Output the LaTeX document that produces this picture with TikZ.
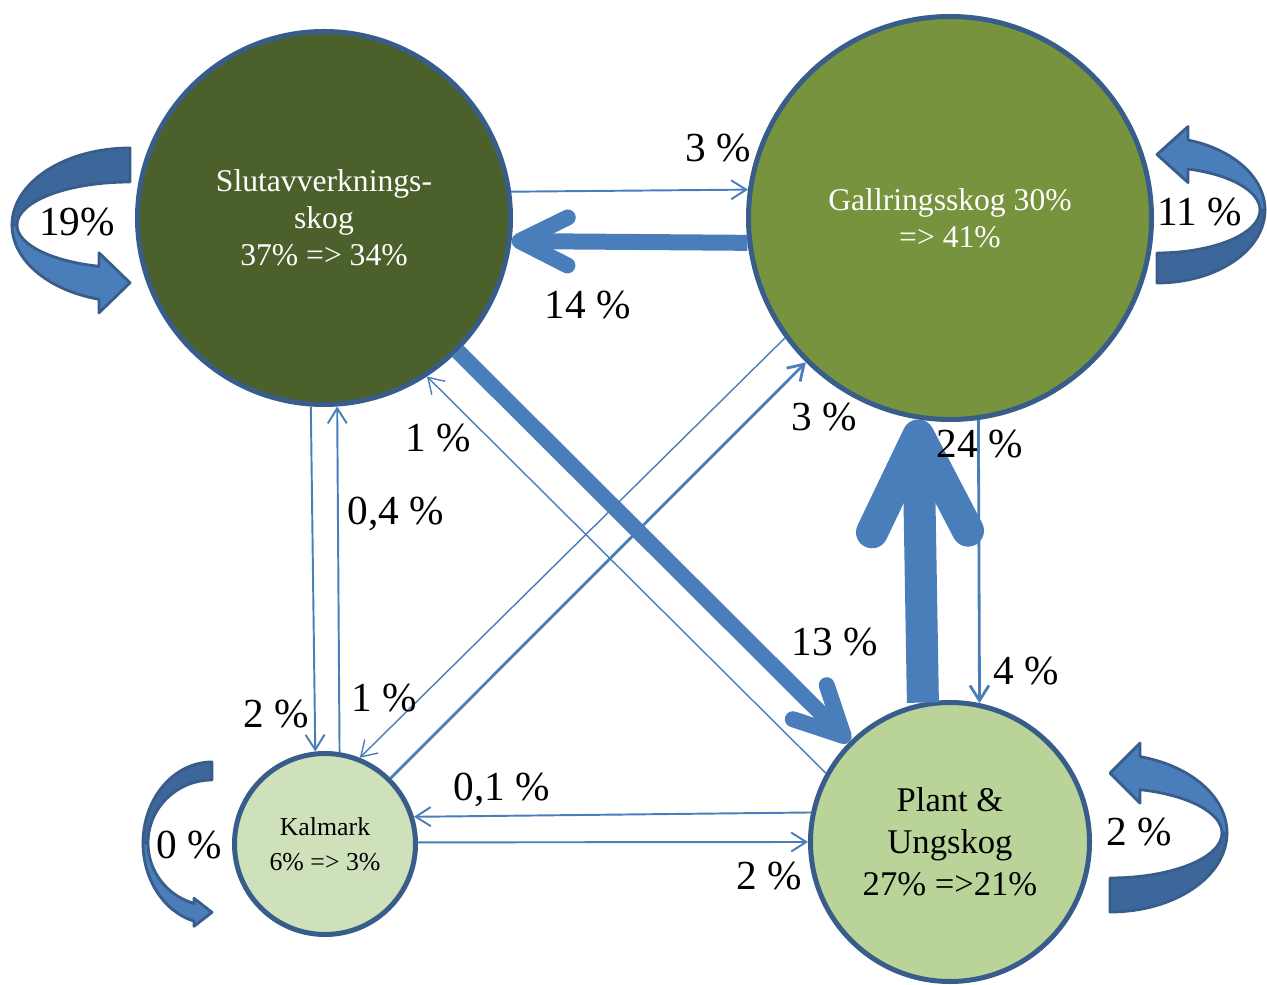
\documentclass[tikz,border=0pt]{standalone}
\usepackage{fontspec}
\setmainfont{Liberation Serif}
\usetikzlibrary{arrows.meta}

\definecolor{ringblue}{RGB}{56,93,138}
\definecolor{flowblue}{RGB}{74,126,187}
\definecolor{loopback}{RGB}{61,102,154}
\definecolor{darkolive}{RGB}{76,96,44}
\definecolor{olive}{RGB}{119,147,62}
\definecolor{youngreen}{RGB}{185,211,152}
\definecolor{baregreen}{RGB}{207,225,187}

\begin{document}
\begin{tikzpicture}[
    state/.style={
        circle,
        draw=ringblue,
        line width=2.85pt,
        inner sep=0pt,
        align=center
    },
    pct/.style={font=\fontsize{23.5}{28}\selectfont},
    flow/.style={draw=flowblue, line width=1.1pt,
        -{Straight Barb[length=0.3cm, width=0.38cm]}},
    bigflow/.style={draw=flowblue, line width=#1,
        -{Straight Barb[round, length=0pt 3, width=0pt 3]}},
    % curved self-loop: x radius, y radius, band, head length, head half width
    pics/ribbon/.style n args={5}{code={
        \pgfmathsetmacro\rbo{asin(#4/#1)}
        \pgfmathsetmacro\rbi{asin(#4/(#1-0.1))}
        \pgfmathsetmacro\rbyo{-#2*cos(\rbo)}
        \pgfmathsetmacro\rbyi{-(#2-#3)*cos(\rbi)}
        \pgfmathsetmacro\rbm{(\rbyo+\rbyi)/2}
        \filldraw[fill=loopback, draw=ringblue, line width=1.6pt, line join=round]
            (0,#2) -- (0,#2-#3)
            arc[start angle=90, end angle=180, x radius=#1-0.1, y radius=#2-#3]
            -- (-#1,0)
            arc[start angle=180, end angle=90, x radius=#1, y radius=#2] -- cycle;
        \filldraw[fill=flowblue, draw=ringblue, line width=1.6pt, line join=round]
            (-#1,0)
            arc[start angle=180, end angle=270-\rbo, x radius=#1, y radius=#2]
            -- (-#4,\rbm-#5) -- (0,\rbm) -- (-#4,\rbm+#5) -- (-#4,\rbyi)
            arc[start angle=270-\rbi, end angle=180, x radius=#1-0.1, y radius=#2-#3]
            -- cycle;
    }}
]
    \useasboundingbox (0,0) rectangle (25.34,19.68);

    \node[state, fill=darkolive, text=white, minimum size=7.46cm,
        font=\fontsize{18}{21}\selectfont] (slut) at (6.48,15.32)
        {Slutavverknings-\\skog\\37\% => 34\%};
    \node[state, fill=olive, text=white, minimum size=8.06cm,
        font=\fontsize{18}{21}\selectfont] (gall) at (19.0,15.32)
        {Gallringsskog 30\%\\=> 41\%};
    \node[state, fill=baregreen, minimum size=3.62cm,
        font=\fontsize{14.7}{20}\selectfont] (kal) at (6.5,2.8)
        {Kalmark\\6\% => 3\%};
    \node[state, fill=youngreen, minimum size=5.58cm,
        font=\fontsize{19.7}{24}\selectfont] (plant) at (19.0,2.84)
        {Plant \&\\Ungskog\\27\% =>21\%};

    % self-loops
    \pic at (2.6,15.18) {ribbon={2.36}{1.54}{0.68}{0.62}{0.6}};
    \pic[rotate=180] at (23.14,15.48) {ribbon={2.16}{1.46}{0.6}{0.62}{0.56}};
    \pic at (4.24,2.82) {ribbon={1.38}{1.62}{0.36}{0.36}{0.28}};
    \pic[rotate=180] at (22.2,3.02) {ribbon={2.34}{1.58}{0.68}{0.6}{0.6}};

    % transitions
    \draw[flow] (slut.8.5) -- (gall.172);
    \draw[bigflow=0.32cm] (gall.187) -- (slut.-7.6);
    \draw[bigflow=0.32cm] (slut) -- (plant);
    \draw[flow, line width=0.8pt] (plant.151) -- (slut.-57);
    \draw[flow, line width=0.8pt] (gall.216.5) -- (kal.68);
    \draw[flow, line width=1.6pt] (kal) -- (gall);
    \draw[flow] (slut.266.7) -- (kal.96);
    \draw[flow] (kal.81) -- (slut.274.6);
    \draw[flow] (plant.168.6) -- (kal.17);
    \draw[flow] (kal.1) -- (plant.180);
    \draw[bigflow=0.64cm] (plant.101.8) -- (gall.261.8);
    \draw[flow, line width=1.6pt] (gall.278.2) -- (plant.78.2);

    % shares
    \node[pct] (p-sg) at (14.36,16.72) {3 \%};
    \node[pct] (p-gs) at (11.76,13.58) {14 \%};
    \node[pct] (p-ss) at (1.54,15.24) {19\%};
    \node[pct] (p-gg) at (24.0,15.44) {11 \%};
    \node[pct] (p-ps) at (8.76,10.92) {1 \%};
    \node[pct] (p-ks) at (7.92,9.40) {0,4 \%};
    \node[pct] (p-kg) at (16.48,11.34) {3 \%};
    \node[pct] (p-pg) at (19.6,10.8) {24 \%};
    \node[pct] (p-sp) at (16.7,6.84) {13 \%};
    \node[pct] (p-gp) at (20.52,6.26) {4 \%};
    \node[pct] (p-sk) at (5.52,5.4) {2 \%};
    \node[pct] (p-gk) at (7.68,5.72) {1 \%};
    \node[pct] (p-pk) at (10.04,3.88) {0,1 \%};
    \node[pct] (p-kk) at (3.78,2.78) {0 \%};
    \node[pct] (p-kp) at (15.38,2.16) {2 \%};
    \node[pct] (p-pp) at (22.78,3.04) {2 \%};
\end{tikzpicture}
\end{document}
